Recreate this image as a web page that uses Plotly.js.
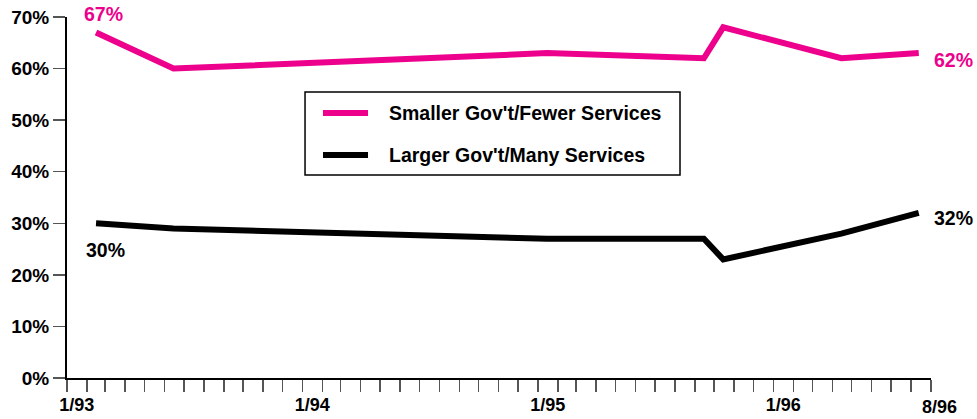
<!DOCTYPE html>
<html>
<head>
<meta charset="utf-8">
<script src="https://cdn.plot.ly/plotly-3.0.1.min.js"></script>
<style>html,body{margin:0;padding:0;background:#fff;}#chart{width:977px;height:419px;}</style>
</head>
<body>
<div id="chart"></div>
<script>
// Data
const dates = ['1993-02-15', '1993-06-15', '1995-01-15', '1995-09-15', '1995-10-15', '1996-04-15', '1996-08-13'];
const smallerGov = [67, 60, 63, 62, 68, 62, 63];
const largerGov = [30, 29, 27, 27, 23, 28, 32];
const seriesNames = ["Smaller Gov't/Fewer Services", "Larger Gov't/Many Services"];
const tickDates = ['1993-01-16', '1994-01-16', '1995-01-16', '1996-01-16', '1996-09-01'];
const tickLabels = ['1/93', '1/94', '1/95', '1/96', '8/96'];
const yTicks = [0, 10, 20, 30, 40, 50, 60, 70];
const startLabels = ['67%', '30%'];
const endLabels = ['62%', '32%'];

const PINK = '#ec008c';
const COLORS = [PINK, '#000'];
const FONT = 'Liberation Sans, Arial, sans-serif';

const traces = [
  {x: dates, y: smallerGov, name: seriesNames[0], mode: 'lines', showlegend: false,
   line: {color: COLORS[0], width: 6}},
  {x: dates, y: largerGov, name: seriesNames[1], mode: 'lines', showlegend: false,
   line: {color: COLORS[1], width: 6}}
];

const n = dates.length - 1;
const annotations = [
  {x: dates[0], y: smallerGov[0], text: startLabels[0], font: {color: PINK}, yshift: 18, xshift: 7},
  {x: dates[0], y: largerGov[0], text: startLabels[1], font: {color: '#000'}, yshift: -27, xshift: 9},
  {x: dates[n], y: smallerGov[n], text: endLabels[0], font: {color: PINK}, yshift: -7, xshift: 13, xanchor: 'left'},
  {x: dates[n], y: largerGov[n], text: endLabels[1], font: {color: '#000'}, yshift: -5, xshift: 13, xanchor: 'left'},
  {x: tickDates[4], y: 0, yref: 'paper', text: tickLabels[4], yanchor: 'top', yshift: -17, xshift: 8, font: {color: '#000', size: 18}}
].map(a => Object.assign({xref: 'x', yref: 'y', showarrow: false}, a,
  {font: Object.assign({family: FONT, size: 19.5, weight: 'bold'}, a.font)}));

// Legend box drawn in paper coordinates
const legBox = {x0: 0.2755, x1: 0.7095, y0: 0.5623, y1: 0.7922};
const legRows = [0.7341, 0.6177];
const shapes = [
  {type: 'rect', xref: 'paper', yref: 'paper', x0: legBox.x0, x1: legBox.x1, y0: legBox.y0, y1: legBox.y1,
   line: {color: '#000', width: 1.5}, fillcolor: '#fff', layer: 'above'}
];
seriesNames.forEach((name, i) => {
  shapes.push({type: 'line', xref: 'paper', yref: 'paper', x0: 0.2963, x1: 0.3484, y0: legRows[i], y1: legRows[i],
    line: {color: COLORS[i], width: 6}, layer: 'above'});
  annotations.push({xref: 'paper', yref: 'paper', x: 0.3704, y: legRows[i], xanchor: 'left', yanchor: 'middle',
    text: name, showarrow: false, font: {family: FONT, size: 19.5, weight: 'bold', color: '#000'}});
});

const layout = {
  width: 977, height: 419,
  margin: {l: 67, r: 46, t: 17, b: 41},
  paper_bgcolor: '#fff', plot_bgcolor: '#fff',
  font: {family: FONT, color: '#000', weight: 'bold'},
  showlegend: false,
  xaxis: {
    type: 'date', range: ['1993-01-01', '1996-09-01'],
    showgrid: false, zeroline: false,
    showline: true, linecolor: '#000', linewidth: 2,
    tickmode: 'array', tickvals: tickDates.slice(0, 4), ticktext: tickLabels.slice(0, 4),
    ticks: 'outside', ticklen: 9, tickcolor: 'rgba(0,0,0,0)',
    tickfont: {family: FONT, size: 18, color: '#000', weight: 'bold'},
    minor: {ticks: 'outside', dtick: 'M1', tick0: '1993-01-01', ticklen: 12, tickcolor: '#555', tickwidth: 1.5, showgrid: false}
  },
  yaxis: {
    range: [0, 70], showgrid: false, zeroline: false,
    showline: true, linecolor: '#000', linewidth: 2,
    tickmode: 'array', tickvals: yTicks, ticktext: yTicks.map(v => v + '%'),
    ticks: 'outside', ticklen: 12, tickcolor: '#555', tickwidth: 1.5,
    tickfont: {family: FONT, size: 19, color: '#000', weight: 'bold'}
  },
  shapes: shapes,
  annotations: annotations
};

Plotly.newPlot('chart', traces, layout, {displayModeBar: false, staticPlot: true});
</script>
</body>
</html>
